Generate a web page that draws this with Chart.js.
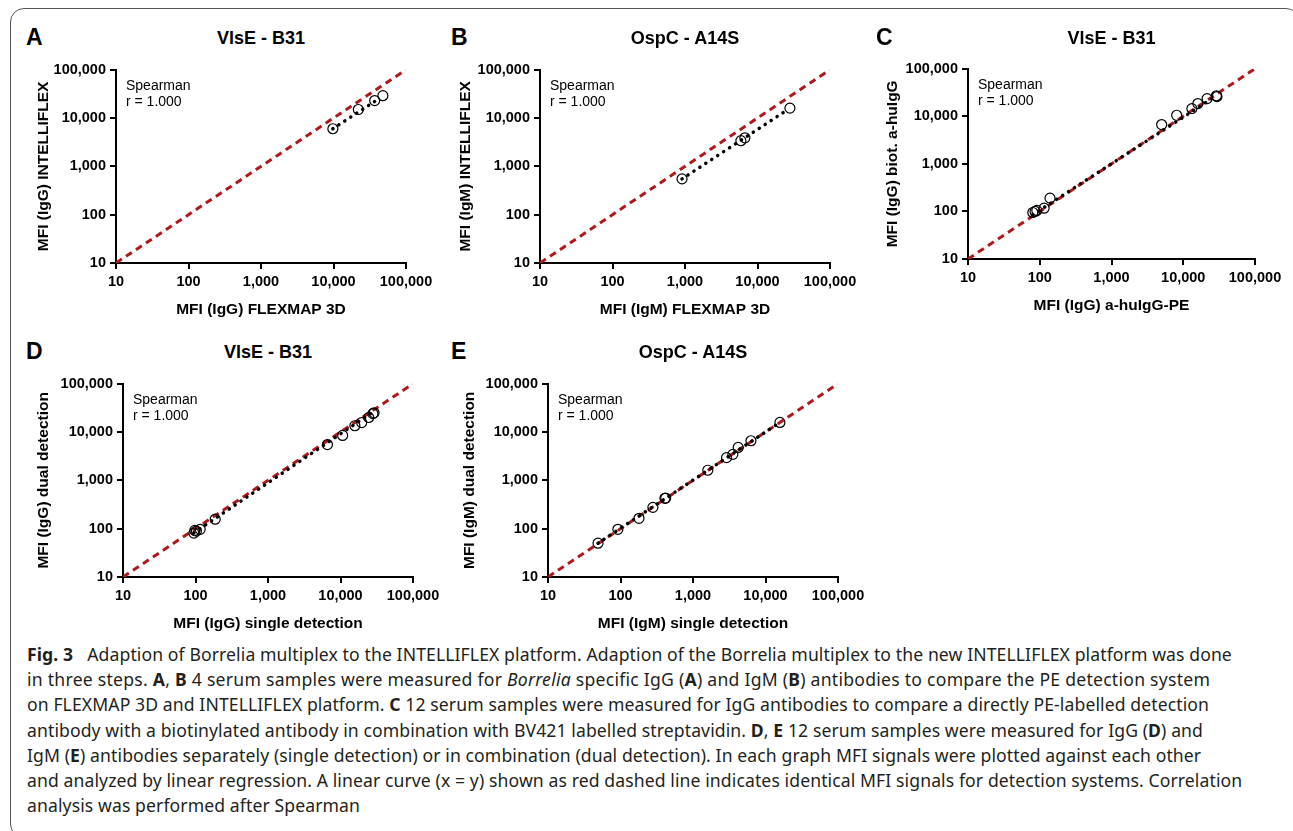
<!DOCTYPE html>
<html>
<head>
<meta charset="utf-8">
<script src="https://cdn.jsdelivr.net/npm/chart.js@4/dist/chart.umd.min.js"></script>
<style>
  body { margin: 0; background: #fff; width: 1293px; height: 831px; overflow: hidden; position: relative; }
  .frame { position: absolute; left: 10px; top: 8px; width: 1290px; height: 830px; border: 1.5px solid #555; border-radius: 14px; box-sizing: border-box; }
  canvas { position: absolute; }
  .letter { position: absolute; font: bold 23px "Liberation Sans", Arial, sans-serif; color: #000; line-height: 1; }
  .ptitle { position: absolute; font: bold 18px "Liberation Sans", Arial, sans-serif; color: #000; text-align: center; line-height: 1; }
  .caption { position: absolute; left: 27px; top: 642px; font: 17.6px "Noto Sans", sans-serif; letter-spacing: 0.1px; color: #231f20; line-height: 25.2px; white-space: nowrap; }
  .caption .fig { margin-right: 14px; }
  .caption .wide { letter-spacing: 0.25px; }
</style>
</head>
<body>
<div class="frame"></div>
<div class="caption">
<b class="fig">Fig. 3</b>Adaption of Borrelia multiplex to the INTELLIFLEX platform. Adaption of the Borrelia multiplex to the new INTELLIFLEX platform was done<br>
<span class="wide">in three steps. <b>A</b>, <b>B</b> 4 serum samples were measured for <i>Borrelia</i> specific IgG (<b>A</b>) and IgM (<b>B</b>) antibodies to compare the PE detection system</span><br>
on FLEXMAP 3D and INTELLIFLEX platform. <b>C</b> 12 serum samples were measured for IgG antibodies to compare a directly PE-labelled detection<br>
antibody with a biotinylated antibody in combination with BV421 labelled streptavidin. <b>D</b>, <b>E</b> 12 serum samples were measured for IgG (<b>D</b>) and<br>
IgM (<b>E</b>) antibodies separately (single detection) or in combination (dual detection). In each graph MFI signals were plotted against each other<br>
and analyzed by linear regression. A linear curve (x = y) shown as red dashed line indicates identical MFI signals for detection systems. Correlation<br>
analysis was performed after Spearman
</div>
<script>
// Tick values shared by every axis
const axisTicks = [10, 100, 1000, 10000, 100000];
const identityLine = [10, 100000];

// A: VlsE - B31, IgG, FLEXMAP 3D vs INTELLIFLEX
const flexmapIgG = [9800, 22000, 37000, 48000];
const intelliflexIgG = [6000, 15000, 23000, 29000];
const fitAx = [9800, 44000];
const fitAy = [6000, 26000];

// B: OspC - A14S, IgM, FLEXMAP 3D vs INTELLIFLEX
const flexmapIgM = [910, 5900, 6700, 28000];
const intelliflexIgM = [550, 3400, 3900, 16000];
const fitBx = [910, 23600];
const fitBy = [550, 13500];

// C: VlsE - B31, IgG, a-huIgG-PE vs biot. a-huIgG
const peIgG = [80, 86, 91, 115, 139, 5000, 8100, 13200, 16000, 21500, 29000, 29500];
const biotIgG = [95, 100, 105, 117, 190, 6700, 10500, 14500, 18500, 23500, 27000, 26000];
const fitCx = [80, 29500];
const fitCy = [85, 27500];

// D: VlsE - B31, IgG, single vs dual detection
const singleIgG = [95, 98, 103, 116, 187, 6600, 10700, 15800, 19600, 24500, 28000, 29000];
const dualIgG = [81, 92, 89, 97, 157, 5500, 8500, 13500, 15700, 20000, 24000, 25000];
const fitDx = [95, 27000];
const fitDy = [82, 25000];

// E: OspC - A14S, IgM, single vs dual detection
const singleIgM = [49, 92, 180, 280, 410, 420, 1600, 2900, 3550, 4200, 6300, 15800];
const dualIgM = [50, 97, 164, 276, 425, 430, 1620, 2950, 3450, 4800, 6600, 15800];
const fitEx = [49, 15800];
const fitEy = [50, 15800];

const spearmanText = ['Spearman', 'r = 1.000'];

// plot area of every panel in page pixels
const panels = [
    {letter: 'A', l: 116, t: 69, r: 406, b: 263, lx: 26, ly: 26, title: 'VlsE - B31', xTitle: 'MFI (IgG) FLEXMAP 3D', yTitle: 'MFI (IgG) INTELLIFLEX', yGap: 72, xs: flexmapIgG, ys: intelliflexIgG, fx: fitAx, fy: fitAy},
    {letter: 'B', l: 540, t: 69, r: 830, b: 263, lx: 451, ly: 26, title: 'OspC - A14S', xTitle: 'MFI (IgM) FLEXMAP 3D', yTitle: 'MFI (IgM) INTELLIFLEX', yGap: 74, xs: flexmapIgM, ys: intelliflexIgM, fx: fitBx, fy: fitBy},
    {letter: 'C', l: 968, t: 68, r: 1255, b: 259, lx: 876, ly: 26, title: 'VlsE - B31', xTitle: 'MFI (IgG) a-huIgG-PE', yTitle: 'MFI (IgG) biot. a-huIgG', yGap: 75, xs: peIgG, ys: biotIgG, fx: fitCx, fy: fitCy},
    {letter: 'D', l: 123, t: 383, r: 413, b: 577, lx: 26, ly: 340, title: 'VlsE - B31', xTitle: 'MFI (IgG) single detection', yTitle: 'MFI (IgG) dual detection', yGap: 79, xs: singleIgG, ys: dualIgG, fx: fitDx, fy: fitDy},
    {letter: 'E', l: 548, t: 383, r: 838, b: 577, lx: 451, ly: 340, title: 'OspC - A14S', xTitle: 'MFI (IgM) single detection', yTitle: 'MFI (IgM) dual detection', yGap: 78, xs: singleIgM, ys: dualIgM, fx: fitEx, fy: fitEy}
];

const LEFT = 110, TOP = 12, RIGHT = 50, BOTTOM = 62;

// draws the Spearman note in the top left corner of the plot
const spearmanPlugin = {
    id: 'spearman',
    afterDraw(chart) {
        const ctx = chart.ctx;
        const area = chart.chartArea;
        ctx.save();
        ctx.font = '14px "Liberation Sans", Arial, sans-serif';
        ctx.fillStyle = '#000';
        ctx.textBaseline = 'middle';
        spearmanText.forEach((line, i) => {
            ctx.fillText(line, area.left + 10, area.top + 16 + i * 16);
        });
        ctx.restore();
    }
};

function makeAxis(title, isX, gap) {
    const font = {family: '"Liberation Sans", Arial, sans-serif', weight: 'bold', size: 15.5};
    return {
        type: 'logarithmic',
        position: isX ? 'bottom' : 'left',
        min: 10,
        max: 100000,
        afterBuildTicks: (scale) => {
            scale.ticks = axisTicks.map(v => ({value: v}));
        },
        afterFit: (scale) => {
            if (isX) scale.height = BOTTOM; else scale.width = LEFT;
        },
        ticks: {
            color: '#000',
            padding: 4,
            maxRotation: 0,
            autoSkip: false,
            font: {family: '"Liberation Sans", Arial, sans-serif', weight: 'bold', size: 14.5},
            callback: (v) => Number(v).toLocaleString('en-US')
        },
        grid: {display: true, drawOnChartArea: false, drawTicks: true, tickLength: 6, color: '#000', lineWidth: 2},
        border: {display: true, color: '#000', width: 2},
        title: {
            display: true,
            text: title,
            color: '#000',
            font: font,
            padding: isX ? {top: 0, bottom: 5.5} : {top: LEFT - gap - 9.3, bottom: 0}
        }
    };
}

panels.forEach((p) => {
    const letter = document.createElement('div');
    letter.className = 'letter';
    letter.style.left = p.lx + 'px';
    letter.style.top = p.ly + 'px';
    letter.textContent = p.letter;
    document.body.appendChild(letter);

    const title = document.createElement('div');
    title.className = 'ptitle';
    title.style.left = p.l + 'px';
    title.style.width = (p.r - p.l) + 'px';
    title.style.top = (p.ly + 3) + 'px';
    title.textContent = p.title;
    document.body.appendChild(title);

    const canvas = document.createElement('canvas');
    const w = (p.r - p.l) + LEFT + RIGHT;
    const h = (p.b - p.t) + TOP + BOTTOM;
    canvas.width = w;
    canvas.height = h;
    canvas.style.width = w + 'px';
    canvas.style.height = h + 'px';
    canvas.style.left = (p.l - LEFT) + 'px';
    canvas.style.top = (p.t - TOP) + 'px';
    document.body.appendChild(canvas);

    new Chart(canvas.getContext('2d'), {
        type: 'scatter',
        data: {
            datasets: [
                {
                    type: 'line',
                    label: 'x = y',
                    data: identityLine.map(v => ({x: v, y: v})),
                    borderColor: '#b2181b',
                    borderWidth: 3,
                    borderDash: [7, 5],
                    pointRadius: 0,
                    fill: false,
                    order: 3
                },
                {
                    type: 'line',
                    label: 'regression',
                    data: p.fx.map((x, i) => ({x: x, y: p.fy[i]})),
                    borderColor: '#000',
                    borderWidth: 3.5,
                    borderDash: [0.1, 7],
                    borderCapStyle: 'round',
                    pointRadius: 0,
                    fill: false,
                    order: 2
                },
                {
                    label: 'samples',
                    data: p.xs.map((x, i) => ({x: x, y: p.ys[i]})),
                    pointRadius: 5,
                    pointBorderWidth: 1.2,
                    pointBorderColor: '#000',
                    pointBackgroundColor: 'rgba(0,0,0,0)',
                    order: 1
                }
            ]
        },
        options: {
            responsive: false,
            animation: false,
            devicePixelRatio: 1,
            layout: {padding: {left: 0, top: TOP, right: RIGHT, bottom: 0}},
            plugins: {legend: {display: false}, tooltip: {enabled: false}},
            scales: {
                x: makeAxis(p.xTitle, true, 0),
                y: makeAxis(p.yTitle, false, p.yGap)
            }
        },
        plugins: [spearmanPlugin]
    });
});
</script>
</body>
</html>
